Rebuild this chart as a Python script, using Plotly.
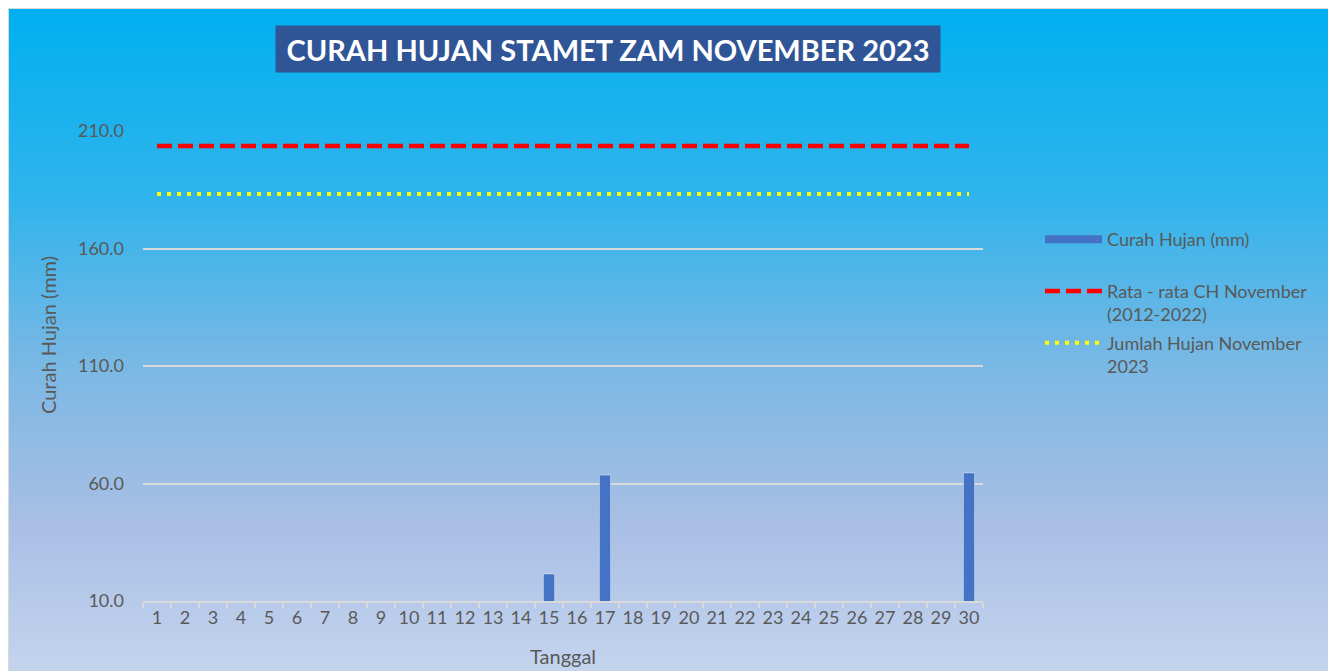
import plotly.graph_objects as go

days = [str(d) for d in range(1, 31)]
rain = [0, 0, 0, 0, 0, 0, 0, 0, 0, 0, 0, 0, 0, 0, 21.5,
        0, 63.6, 0, 0, 0, 0, 0, 0, 0, 0, 0, 0, 0, 0, 64.5]
avg_nov = [203.6] * 30
total_nov = [183.2] * 30
yticks = [10, 60, 110, 160, 210]

OFF = 8  # page body margin
W, H = 1336 - OFF, 671 - OFF
# plot area in page pixels
PL, PR, PT, PB = 143, 983, 131, 601
L, R, T, B = PL - OFF, PR - OFF, PT - OFF, PB - OFF
pw, ph = R - L, B - T

def px_x(p):  # page px -> paper
    return (p - OFF - L) / pw

def px_y(p):
    return (B - (p - OFF)) / ph

def lerp(c1, c2, t):
    return tuple(round(a + (b - a) * t) for a, b in zip(c1, c2))

stops = [(8, (0, 176, 240)), (200, (48, 180, 236)), (360, (120, 184, 228)),
         (520, (168, 190, 228)), (671, (196, 212, 238))]

def grad(py):
    for (y0, c0), (y1, c1) in zip(stops[:-1], stops[1:]):
        if y0 <= py <= y1:
            return lerp(c0, c1, (py - y0) / (y1 - y0))
    return stops[-1][1]

shapes = []
step = 3
py = 9
while py < 672:
    c = grad(py + step / 2)
    shapes.append(dict(type="rect", xref="paper", yref="paper",
                       x0=px_x(9), x1=px_x(1328), y0=px_y(py + step + 0.5), y1=px_y(py),
                       fillcolor="rgb(%d,%d,%d)" % c, line=dict(width=0), layer="below"))
    py += step

font_family = "Lato, Open Sans, sans-serif"
gray = "#595959"

fig = go.Figure()
fig.add_trace(go.Bar(x=days, y=rain, name="Curah Hujan (mm)", marker_color="#4472c4",
                     width=0.4, showlegend=False))
fig.add_trace(go.Scatter(x=[None], y=[None], mode="lines",
                         name="Curah Hujan (mm)<br>&nbsp;",
                         line=dict(color="#4472c4", width=8), legendgroup="a"))
fig.add_trace(go.Scatter(x=days, y=avg_nov, mode="lines",
                         name="Rata - rata CH November<br>(2012-2022)",
                         line=dict(color="#ff0000", width=4.5, dash="15px,6px"),
                         legendgroup="b"))
fig.add_trace(go.Scatter(x=days, y=total_nov, mode="lines",
                         name="Jumlah Hujan November<br>2023",
                         line=dict(color="#ffff00", width=4, dash="4px,6px"),
                         legendgroup="c"))

fig.update_layout(
    width=W, height=H,
    margin=dict(l=L, r=W - R, t=T, b=H - B, pad=0),
    paper_bgcolor="#d9d9d9",
    plot_bgcolor="rgba(0,0,0,0)",
    shapes=shapes,
    font=dict(family=font_family, color=gray, size=18),
    showlegend=True,
    legend=dict(x=px_x(1040), y=px_y(221), xanchor="left", yanchor="top",
                bgcolor="rgba(0,0,0,0)", font=dict(size=18, color=gray),
                tracegroupgap=2, itemwidth=57, valign="top"),
    xaxis=dict(type="category", tickson="boundaries", ticks="outside", ticklen=5,
               tickcolor="#d9d9d9", tickwidth=1.5, showline=True, linecolor="#d9d9d9",
               linewidth=1.5, showgrid=False, tickangle=0,
               tickfont=dict(size=18, color=gray)),
    yaxis=dict(range=[10, 210], tickvals=yticks, ticktext=["%.1f" % v for v in yticks],
               showgrid=True, gridcolor="#d9d9d9", gridwidth=1.5, zeroline=False,
               ticks="", ticklabelstandoff=18, tickfont=dict(size=18, color=gray),
               showline=False),
    annotations=[
        dict(text="<b>CURAH HUJAN STAMET ZAM NOVEMBER 2023</b>", xref="paper", yref="paper",
             x=px_x(608), y=px_y(49), xanchor="center", yanchor="middle", showarrow=False,
             bgcolor="#2f5597", width=664, height=46, borderpad=0,
             font=dict(size=29, color="white", family=font_family)),
        dict(text="Curah Hujan (mm)", xref="paper", yref="paper",
             x=px_x(48), y=px_y(335), xanchor="center", yanchor="middle", showarrow=False,
             textangle=-90, font=dict(size=20, color=gray)),
        dict(text="Tanggal", xref="paper", yref="paper",
             x=px_x(563), y=px_y(656), xanchor="center", yanchor="middle", showarrow=False,
             font=dict(size=20, color=gray)),
    ],
    bargap=0.6,
)

fig.write_html("out.html")
